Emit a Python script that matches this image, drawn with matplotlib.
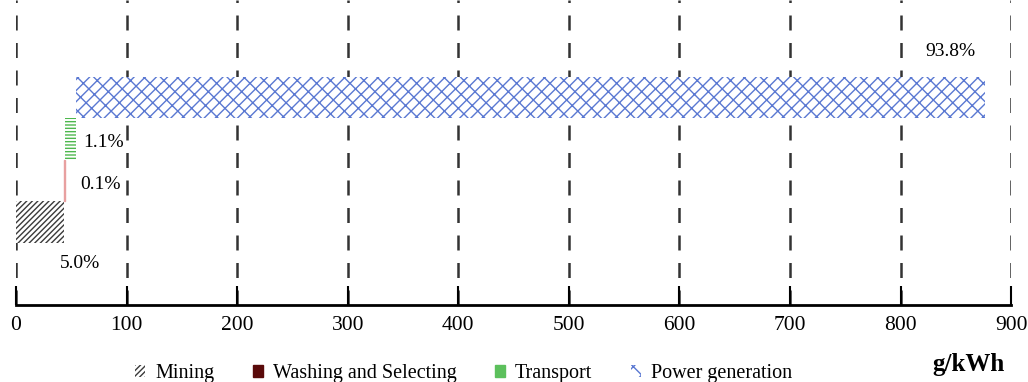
import matplotlib.pyplot as plt
from matplotlib.patches import Patch

plt.rcParams['font.family'] = ['Liberation Serif', 'DejaVu Serif']
plt.rcParams['hatch.linewidth'] = 1.0

# Datos (g/kWh) - cascada
etapas = ["Mining", "Washing and Selecting", "Transport", "Power generation"]
valores = [43.8, 0.9, 9.6, 821.7]
porcentajes = ["5.0%", "0.1%", "1.1%", "93.8%"]
colores = ["#3a3a3a", "#e8a0a0", "#4db84d", "#5a78d2"]
hatches = ["//////", None, "-----", "///\\\\"]
legend_colores = ["#3a3a3a", "#5a0a0a", "#5cc05c", "#5a78d2"]

# posiciones de las etiquetas de porcentaje (x en g/kWh, y en categoría)
etiq_x = [58, 76, 79, 845]
etiq_y = [-1.0, 0.9, 1.92, 4.1]

fig = plt.figure(figsize=(10.28, 3.82), dpi=100)
ax = fig.add_axes([0.0156, 0.2016, 0.968, 0.7984])

inicio = 0
for i, (v, c, h) in enumerate(zip(valores, colores, hatches)):
    if h is None:
        ax.barh(i, v, left=inicio, height=1.0, color=c, edgecolor=c, linewidth=1)
    else:
        ax.barh(i, v, left=inicio, height=1.0, color="white", edgecolor=c,
                hatch=h, linewidth=0)
    inicio += v

for x, y, p in zip(etiq_x, etiq_y, porcentajes):
    ax.text(x, y, p, ha="center", va="center", fontsize=14)

ax.set_xlim(0, 900)
ax.set_ylim(-2, 5.35)
ax.set_xticks(range(0, 1000, 100))
ax.set_yticks([])
ax.tick_params(axis="x", direction="in", length=14, width=1.5, labelsize=15.5, pad=8)
for x in range(0, 1000, 100):
    ax.axvline(x, color="#333333", linestyle=(0, (6, 5)), linewidth=1.8, zorder=0)
for s in ["top", "right", "left"]:
    ax.spines[s].set_visible(False)
ax.spines["bottom"].set_linewidth(2)

handles = [Patch(facecolor="white", edgecolor=legend_colores[0], hatch="//////", linewidth=0),
           Patch(facecolor=legend_colores[1], edgecolor=legend_colores[1]),
           Patch(facecolor=legend_colores[2], edgecolor=legend_colores[2]),
           Patch(facecolor="white", edgecolor=legend_colores[3], hatch="//\\", linewidth=0)]
fig.legend(handles, etapas, loc="lower center", bbox_to_anchor=(0.451, -0.05), ncol=4,
           frameon=False, fontsize=14.5, handlelength=0.5, handleheight=0.5,
           handletextpad=0.5, columnspacing=1.9)
fig.text(0.942, 0.045, "g/kWh", ha="center", va="center", fontsize=18, fontweight="bold")

plt.savefig("out.png", dpi=100)
plt.close()
